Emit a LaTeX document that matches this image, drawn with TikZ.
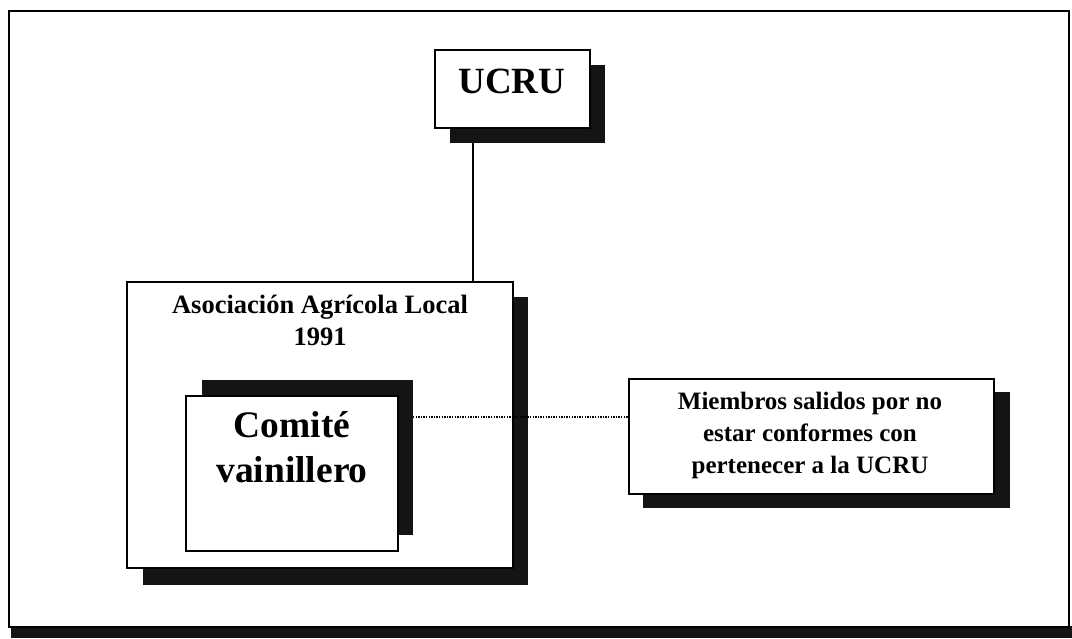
\documentclass[tikz,border=0pt]{standalone}
\usepackage{fontspec}
\setmainfont{Liberation Serif}
\begin{document}
\begin{tikzpicture}[x=1pt,y=-1pt,
  shadowbox/.style={fill=black!92,draw=none},
  whitebox/.style={fill=white,draw=black,line width=1.8pt},
  lbl/.style={font=\bfseries,align=center,inner sep=0pt}]
\useasboundingbox (0,0) rectangle (1072,638);
% outer frame
\fill[black!92] (11,626) rectangle (1072,638);
\draw[line width=1.8pt] (9,11) rectangle (1069,627);
% UCRU
\fill[shadowbox] (450,65) rectangle (605,143);
\node[whitebox,anchor=north west,minimum width=155pt,minimum height=78pt] (ucru) at (434,49) {};
\node[lbl,font=\bfseries\fontsize{37}{40}\selectfont,anchor=base] (ucrut) at (512,93) {UCRU};
% Asociacion
\fill[shadowbox] (143,297) rectangle (528,585);
\node[whitebox,anchor=north west,minimum width=386pt,minimum height=286pt] (asoc) at (126,281) {};
\node[lbl,font=\bfseries\fontsize{26.5}{32}\selectfont,anchor=base] (asoct) at (320,345) {Asociación Agrícola Local\\1991};
% Comite
\fill[shadowbox] (202,380) rectangle (413,535);
\node[whitebox,anchor=north west,minimum width=212pt,minimum height=155pt] (comite) at (185,395) {};
\node[lbl,font=\bfseries\fontsize{37.5}{45}\selectfont,anchor=base] (comitet) at (292,482) {Comité\\vainillero};
% Miembros
\fill[shadowbox] (643,392) rectangle (1010,508);
\node[whitebox,anchor=north west,minimum width=365pt,minimum height=115pt] (miem) at (628,378) {};
\node[lbl,font=\bfseries\fontsize{25}{32}\selectfont,anchor=base] (miemt) at (810,473) {Miembros salidos por no\\estar conformes con\\pertenecer a la UCRU};
% connectors
\coordinate (ucrubot) at (473,143);
\draw[line width=1.2pt] (ucrubot) -- (ucrubot |- asoc.north);
\coordinate (comr) at (413,417);
\draw[line width=1.3pt,dash pattern=on 1.3pt off 1.3pt] (comr) -- (comr -| miem.west);
\end{tikzpicture}
\end{document}
